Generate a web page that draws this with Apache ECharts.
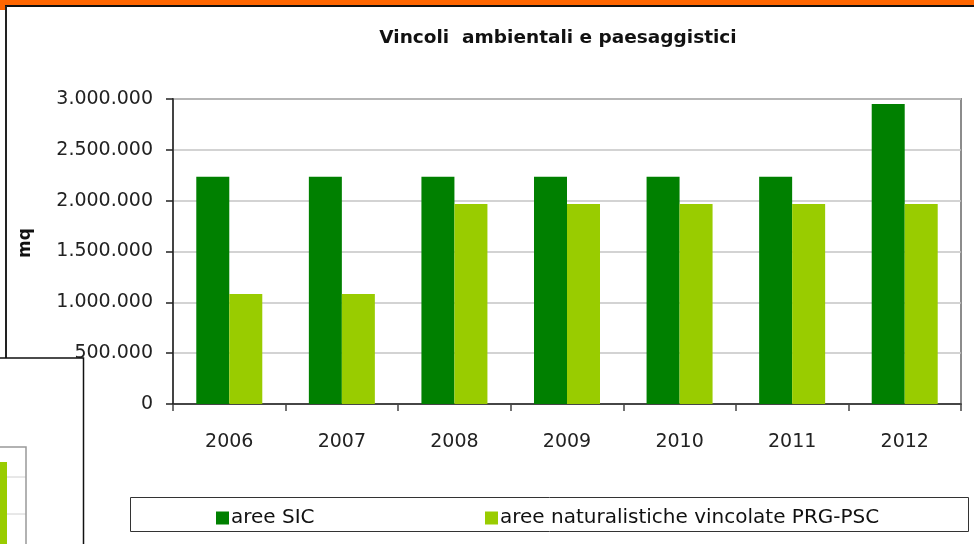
<!DOCTYPE html>
<html>
<head>
<meta charset="utf-8">
<script src="https://cdn.jsdelivr.net/npm/echarts@6/dist/echarts.min.js"></script>
<style>
html,body{margin:0;padding:0;background:#fff;}
#chart{width:974px;height:544px;}
</style>
</head>
<body>
<div id="chart"></div>
<script>
var categories = ['2006', '2007', '2008', '2009', '2010', '2011', '2012'];
var areeSIC = [2235000, 2235000, 2235000, 2235000, 2235000, 2235000, 2950000];
var areeNaturalistiche = [1082000, 1082000, 1967000, 1967000, 1967000, 1967000, 1967000];
var seriesNames = ['aree SIC', 'aree naturalistiche vincolate PRG-PSC'];
var titleText = 'Vincoli  ambientali e paesaggistici';
var yAxisName = 'mq';

function fmt(v) {
  return String(v).replace(/\B(?=(\d{3})+(?!\d))/g, '.');
}

var chart = echarts.init(document.getElementById('chart'), null, {renderer: 'canvas'});
var font = '"DejaVu Sans", sans-serif';

chart.setOption({
  backgroundColor: '#ffffff',
  animation: false,
  title: {
    text: titleText,
    left: 553,
    top: 24,
    textAlign: 'center',
    textStyle: {fontFamily: font, fontWeight: 'bold', fontSize: 18.5, color: '#111'}
  },
  legend: [
    {
      data: [seriesNames[0]],
      left: 211,
      top: 503,
      itemWidth: 13,
      itemHeight: 13,
      itemGap: 0,
      icon: 'rect',
      textStyle: {fontFamily: font, fontSize: 20, color: '#111', padding: [0, 0, 0, -3]}
    },
    {
      data: [seriesNames[1]],
      left: 480,
      top: 503,
      itemWidth: 13,
      itemHeight: 13,
      icon: 'rect',
      textStyle: {fontFamily: font, fontSize: 20, color: '#111', padding: [0, 0, 0, -3]}
    }
  ],
  grid: {
    left: 173, right: 13, top: 99, bottom: 140,
    show: true, borderColor: '#8c8c8c', borderWidth: 2, backgroundColor: 'transparent'
  },
  xAxis: {
    type: 'category',
    data: categories,
    axisLine: {show: true, lineStyle: {color: '#222', width: 1.5}},
    axisTick: {show: true, length: 7, inside: false, alignWithLabel: false, lineStyle: {color: '#444', width: 1.5}},
    axisLabel: {fontFamily: font, fontSize: 19, color: '#222', margin: 29}
  },
  yAxis: {
    type: 'value',
    min: 0,
    max: 3000000,
    interval: 500000,
    axisLine: {show: true, lineStyle: {color: '#444', width: 2}},
    axisTick: {show: true, length: 7, inside: false, lineStyle: {color: '#222', width: 1.5}},
    axisLabel: {fontFamily: font, fontSize: 19, color: '#222', margin: 20, formatter: fmt},
    splitLine: {show: true, lineStyle: {color: '#c4c4c4', width: 1.5}}
  },
  series: [
    {
      name: seriesNames[0],
      type: 'bar',
      data: areeSIC,
      barWidth: 33,
      barGap: '0%',
      itemStyle: {color: '#008000'}
    },
    {
      name: seriesNames[1],
      type: 'bar',
      data: areeNaturalistiche,
      barWidth: 33,
      barGap: '0%',
      itemStyle: {color: '#99cc00'}
    }
  ],
  graphic: [
    {type: 'rect', z: 10, shape: {x: 0, y: 0, width: 974, height: 5}, style: {fill: '#ff6600'}},
    {type: 'rect', z: 10, shape: {x: 0, y: 0, width: 5, height: 10}, style: {fill: '#ff6600'}},
    {type: 'line', z: 10, shape: {x1: 5, y1: 6, x2: 974, y2: 6}, style: {stroke: '#111', lineWidth: 2}},
    {type: 'line', z: 10, shape: {x1: 6, y1: 6, x2: 6, y2: 358}, style: {stroke: '#222', lineWidth: 2}},
    {type: 'rect', z: 10, shape: {x: -5, y: 358, width: 88.5, height: 200}, style: {fill: '#fff', stroke: '#111', lineWidth: 1.5}},
    {type: 'line', z: 11, shape: {x1: 0, y1: 477, x2: 26, y2: 477}, style: {stroke: '#d0d0d0', lineWidth: 1}},
    {type: 'line', z: 11, shape: {x1: 0, y1: 514, x2: 26, y2: 514}, style: {stroke: '#d0d0d0', lineWidth: 1}},
    {type: 'rect', z: 11, shape: {x: -10, y: 447, width: 36, height: 120}, style: {fill: 'transparent', stroke: '#999', lineWidth: 1.5}},
    {type: 'rect', z: 12, shape: {x: 0, y: 462, width: 7, height: 90}, style: {fill: '#99cc00'}},
    {type: 'rect', z: 10, shape: {x: 130.5, y: 497.5, width: 838, height: 34}, style: {fill: 'transparent', stroke: '#333', lineWidth: 1}},
    {type: 'text', z: 10, x: 26, y: 243, rotation: Math.PI / 2,
      style: {text: yAxisName, font: 'bold 17px "DejaVu Sans", sans-serif', fill: '#111', textAlign: 'center', textVerticalAlign: 'middle'}}
  ]
});
</script>
</body>
</html>
